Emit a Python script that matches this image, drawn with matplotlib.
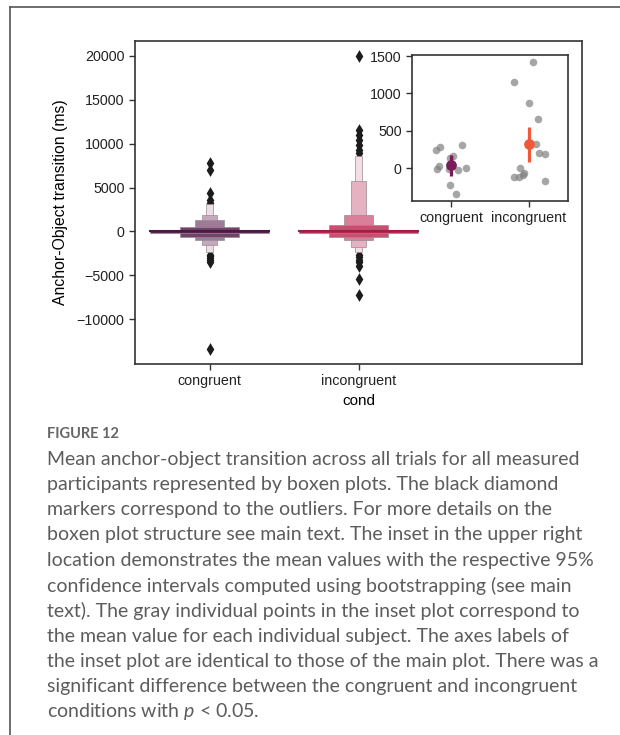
import numpy as np
import matplotlib.pyplot as plt
from matplotlib.lines import Line2D

plt.rcParams['font.family'] = ['Liberation Sans', 'DejaVu Sans']
plt.rcParams['mathtext.fontset'] = 'custom'
plt.rcParams['mathtext.it'] = 'Lato:italic'
plt.rcParams['mathtext.rm'] = 'Lato'

conds = ['congruent', 'incongruent']

# boxen levels, innermost first (ms)
cong_lo = [-130, -600, -990, -1590, -2350]
cong_hi = [130, 490, 1280, 1930, 3180]
inc_lo = [-130, -600, -990, -1740, -2350]
inc_hi = [130, 720, 1930, 5720, 8560]
medians = [0, 0]

cong_out = [7840, 7050, 4430, 3640, 3300, -2650, -2850, -3050, -3250, -3490, -13400]
inc_out = [20000, 11600, 11000, 10400, 9800, 9300, 8900,
           -2650, -2950, -3300, -3520, -3940, -5450, -7270]

cong_cols = ['#5a2352', '#6f4468', '#9f7b97', '#c4a9bd', '#ebdfe6']
inc_cols = ['#b5284f', '#c8506f', '#d97f99', '#e6b1c0', '#f4dde4']
med_cols = ['#4a1a42', '#a01f45']

# inset: per-subject means and jitter
cong_subj = [241, 277, 304, -17, 31, 130, 160, -17, -27, 4, -232, -344]
cong_jit = [-0.19, -0.14, 0.14, -0.18, -0.16, -0.01, 0.02, -0.03, 0.09, 0.19, -0.01, 0.06]
inc_subj = [1424, 1156, 867, 652, 317, 197, 183, -4, -116, -125, -94, -71, -174]
inc_jit = [0.05, -0.19, 0.0, 0.11, 0.09, 0.13, 0.21, -0.12, -0.19, -0.13, -0.08, -0.06, 0.2]
means = [40, 322]
ci_lo = [-107, 80]
ci_hi = [174, 550]
mean_cols = ['#781d5a', '#f0583a']

caption = [
    'Mean anchor-object transition across all trials for all measured',
    'participants represented by boxen plots. The black diamond',
    'markers correspond to the outliers. For more details on the',
    'boxen plot structure see main text. The inset in the upper right',
    'location demonstrates the mean values with the respective 95%',
    'confidence intervals computed using bootstrapping (see main',
    'text). The gray individual points in the inset plot correspond to',
    'the mean value for each individual subject. The axes labels of',
    'the inset plot are identical to those of the main plot. There was a',
    'significant difference between the congruent and incongruent',
    r'conditions with $p$ < 0.05.',
]

W, H = 620, 735
fig = plt.figure(figsize=(6.2, 7.35), dpi=100)

ax = fig.add_axes([135 / W, 1 - 364 / H, 447 / W, 323 / H])
widths = 0.8 * 0.5 ** np.arange(5)
for i, (lo, hi, cols, out) in enumerate([(cong_lo, cong_hi, cong_cols, cong_out),
                                         (inc_lo, inc_hi, inc_cols, inc_out)]):
    for k in reversed(range(5)):
        ax.bar(i, hi[k] - lo[k], bottom=lo[k], width=widths[k], color=cols[k],
               edgecolor='#9a8a94', linewidth=0.5, zorder=8 - k)
    ax.plot([i - 0.4, i + 0.4], [medians[i]] * 2, color=med_cols[i], lw=1.5, zorder=10)
    ax.scatter(np.full(len(out), i), out, marker='d', s=42, color='#1c1c1c',
               linewidths=0, zorder=3)

ax.set_xlim(-0.5, 2.5)
ax.set_ylim(-15100, 21700)
ax.set_xticks([0, 1])
ax.set_xticklabels(conds)
ax.set_yticks([-10000, -5000, 0, 5000, 10000, 15000, 20000])
ax.set_xlabel('cond', fontsize=11, labelpad=4)
ax.set_ylabel('Anchor-Object transition (ms)', fontsize=11.3, labelpad=6)
ax.tick_params(labelsize=10.3, length=4, width=1, color='#333', labelcolor='#222')
for s in ax.spines.values():
    s.set_linewidth(1.2)
    s.set_color('#333')

axin = fig.add_axes([412 / W, 1 - 201 / H, 156 / W, 146 / H])
for i, (vals, jit) in enumerate([(cong_subj, cong_jit), (inc_subj, inc_jit)]):
    axin.scatter(i + np.array(jit), vals, s=30, color='gray', alpha=0.7,
                 linewidths=0, zorder=2)
    axin.plot([i, i], [ci_lo[i], ci_hi[i]], color=mean_cols[i], lw=2.3,
              solid_capstyle='butt', zorder=3)
    axin.scatter([i], [means[i]], s=60, color=mean_cols[i], linewidths=0, zorder=4)
axin.set_xlim(-0.5, 1.5)
axin.set_ylim(-440, 1515)
axin.set_xticks([0, 1])
axin.set_xticklabels(conds)
axin.set_yticks([0, 500, 1000, 1500])
axin.tick_params(labelsize=10.3, length=4, width=1, color='#333', labelcolor='#222')
for s in axin.spines.values():
    s.set_linewidth(1.2)
    s.set_color('#333')

# page frame
fig.add_artist(Line2D([10 / W, 1], [1 - 7 / H] * 2, transform=fig.transFigure,
                      color='#555', lw=1.2))
fig.add_artist(Line2D([10 / W, 10 / W], [0, 1 - 7 / H], transform=fig.transFigure,
                      color='#555', lw=1.2))

fig.text(47 / W, 1 - 434 / H, 'FIGURE 12', family='Lato', weight='bold',
         fontsize=10.5, color='#666', va='center')
for k, line in enumerate(caption):
    fig.text(47 / W, 1 - (459 + 25.3 * k) / H, line, family='Lato',
             fontsize=14, color='#5c5c5c', va='center')

fig.savefig('out.png', dpi=100)
